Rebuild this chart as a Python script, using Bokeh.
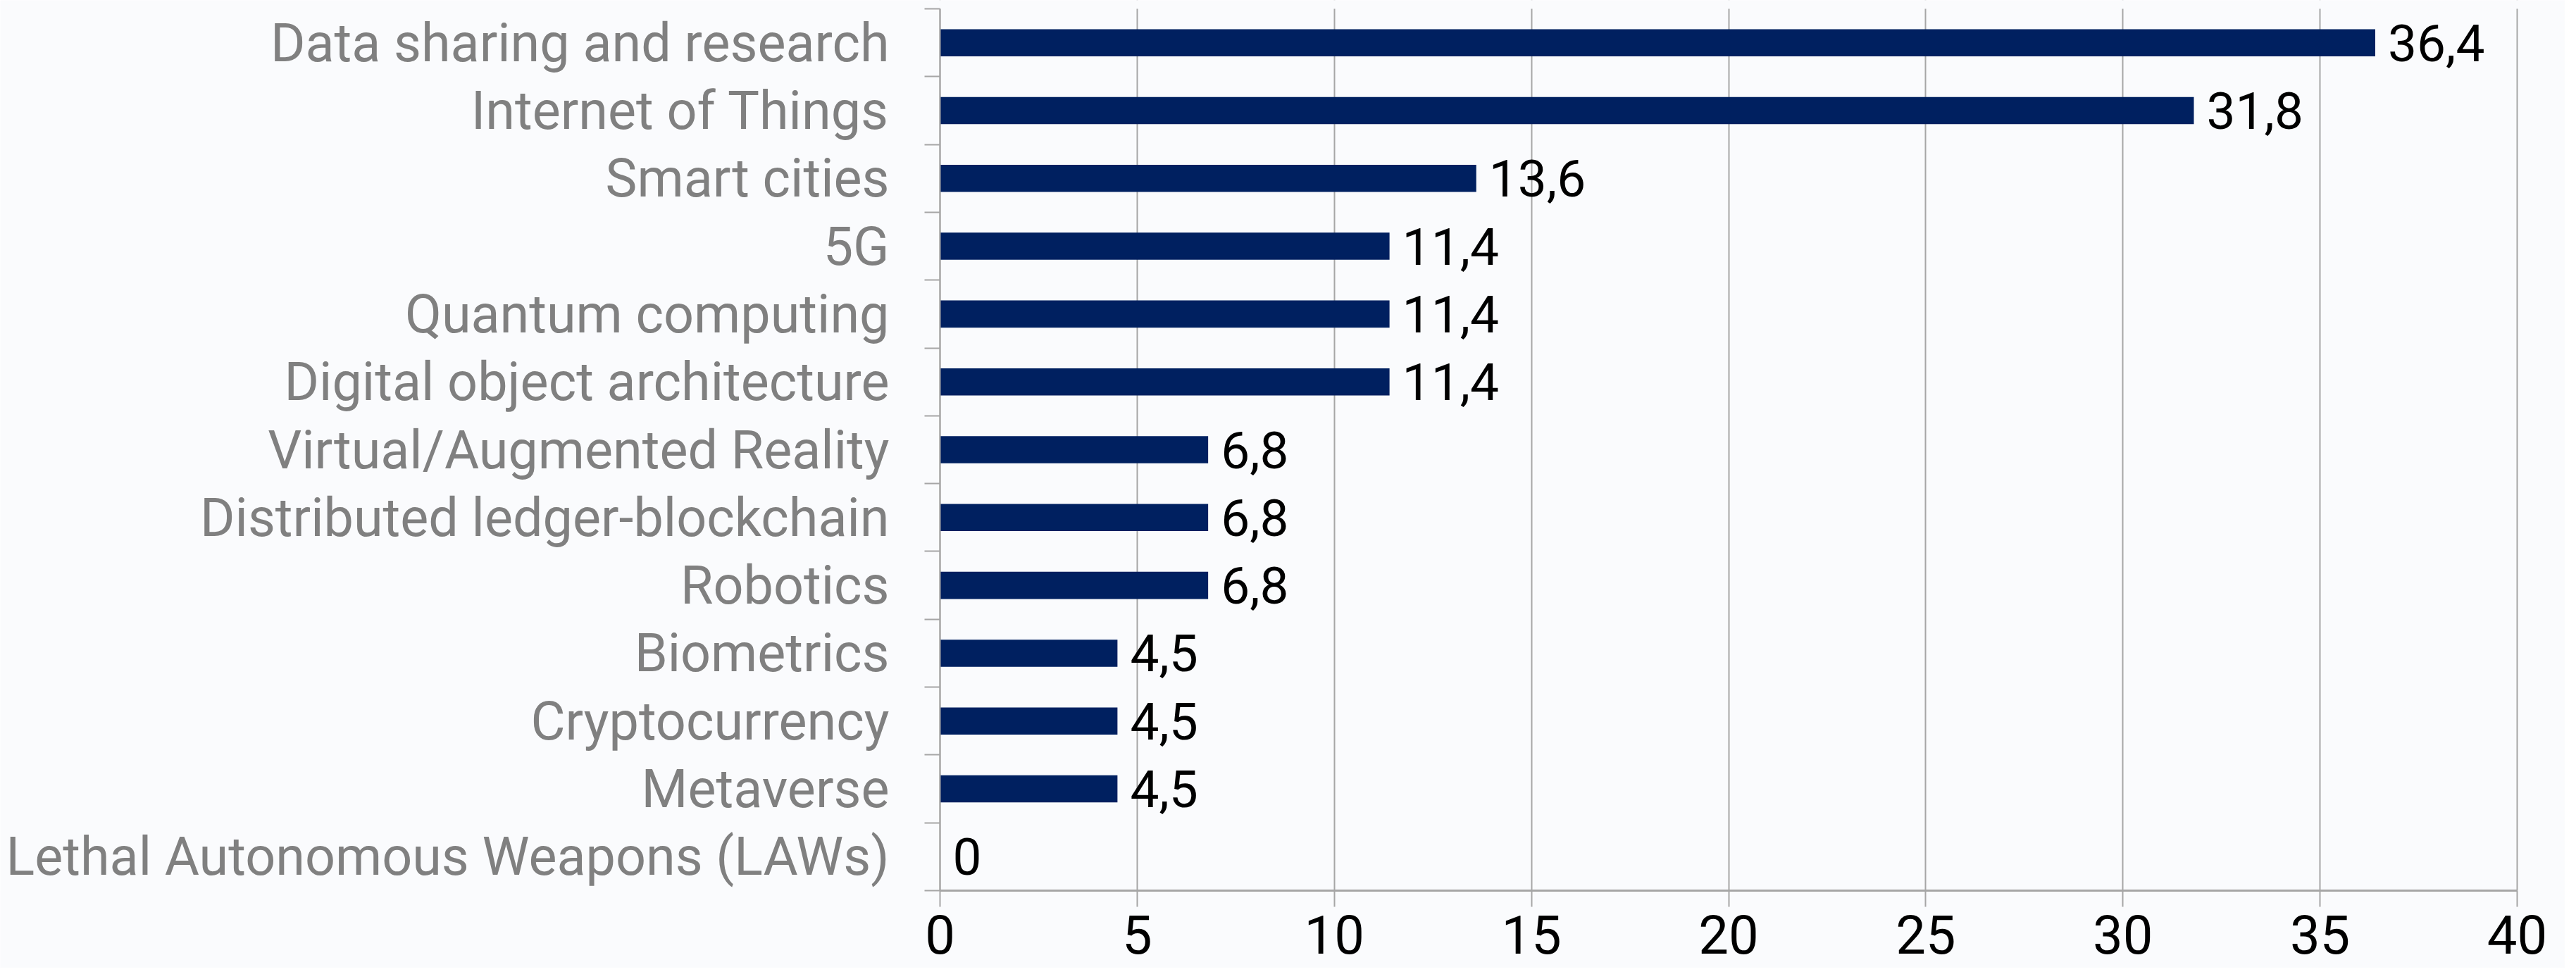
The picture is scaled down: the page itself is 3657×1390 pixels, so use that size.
from bokeh.plotting import figure
from bokeh.models import FixedTicker, ColumnDataSource, BoxAnnotation
from bokeh.embed import file_html
from bokeh.resources import INLINE

categories = [
    "Data sharing and research",
    "Internet of Things",
    "Smart cities",
    "5G",
    "Quantum computing",
    "Digital object architecture",
    "Virtual/Augmented Reality",
    "Distributed ledger-blockchain",
    "Robotics",
    "Biometrics",
    "Cryptocurrency",
    "Metaverse",
    "Lethal Autonomous Weapons (LAWs)",
]
values = [36.4, 31.8, 13.6, 11.4, 11.4, 11.4, 6.8, 6.8, 6.8, 4.5, 4.5, 4.5, 0]
x_ticks = [0, 5, 10, 15, 20, 25, 30, 35, 40]
x_max = 40

n = len(categories)
ypos = [n - 1 - i + 0.5 for i in range(n)]
labels = [("%g" % v).replace(".", ",") for v in values]

src = ColumnDataSource(dict(cat=categories, val=values, y=ypos, lab=labels))

FONT = "Roboto"
GREY = "#A6A6A6"
BG = "#FAFBFD"

# layout in pixels: the frame fills the whole canvas, the axes sit at fixed positions
W, H = 3641, 1374
X0_PX, XMAX_PX = 1334, 3573        # pixel columns of x = 0 and x = x_max
YTOP_PX, Y0_PX = 12, 1264          # pixel rows of the top of the plot and of y = 0
px_x = (XMAX_PX - X0_PX) / x_max
px_y = (Y0_PX - YTOP_PX) / n
x_range = (-X0_PX / px_x, x_max + (W - XMAX_PX) / px_x)
y_range = (-(H - Y0_PX) / px_y, n + YTOP_PX / px_y)

p = figure(width=W, height=H, output_backend="svg", toolbar_location=None,
           x_range=x_range, y_range=y_range,
           background_fill_color=BG, border_fill_color=BG,
           min_border=0, min_border_left=0, min_border_right=0,
           min_border_top=0, min_border_bottom=0)
p.outline_line_color = None

p.xgrid.ticker = FixedTicker(ticks=x_ticks)
p.xgrid.grid_line_color = GREY
p.xgrid.grid_line_width = 2
p.ygrid.grid_line_color = None

# grid only spans the plot area
p.add_layout(BoxAnnotation(top=0, fill_color=BG, fill_alpha=1.0, line_color=None,
                           level="underlay"))
p.add_layout(BoxAnnotation(bottom=n, fill_color=BG, fill_alpha=1.0, line_color=None,
                           level="underlay"))

p.hbar(y="y", right="val", left=0, height=0.4, source=src,
       fill_color="#002060", line_color=None)
p.text(x="val", y="y", text="lab", source=src, x_offset=18,
       text_align="left", text_baseline="middle",
       text_font_size="73px", text_color="#000000",
       text_font={"value": FONT})

# x axis at y = 0
xa = p.xaxis[0]
xa.fixed_location = 0
xa.bounds = (0, x_max)
xa.ticker = FixedTicker(ticks=x_ticks)
xa.axis_line_color = GREY
xa.axis_line_width = 3
xa.major_tick_line_color = GREY
xa.major_tick_line_width = 2
xa.major_tick_out = 23
xa.major_tick_in = 0
xa.minor_tick_line_color = None
xa.minor_tick_out = 0
xa.major_label_text_font = FONT
xa.major_label_text_font_size = "76px"
xa.major_label_text_color = "#000000"
xa.major_label_standoff = 12

# y axis at x = 0
ya = p.yaxis[0]
ya.fixed_location = 0
ya.bounds = (0, n)
ya.ticker = FixedTicker(ticks=ypos, minor_ticks=list(range(n + 1)))
ya.major_label_overrides = {y: c for y, c in zip(ypos, categories)}
ya.axis_line_color = GREY
ya.axis_line_width = 2
ya.major_tick_line_color = None
ya.major_tick_out = 0
ya.major_tick_in = 0
ya.minor_tick_line_color = GREY
ya.minor_tick_line_width = 2
ya.minor_tick_out = 22
ya.minor_tick_in = 0
ya.major_label_text_font = FONT
ya.major_label_text_font_size = "75.5px"
ya.major_label_text_color = "#808080"
ya.major_label_standoff = 50

open("out.html", "w").write(file_html(p, INLINE))
